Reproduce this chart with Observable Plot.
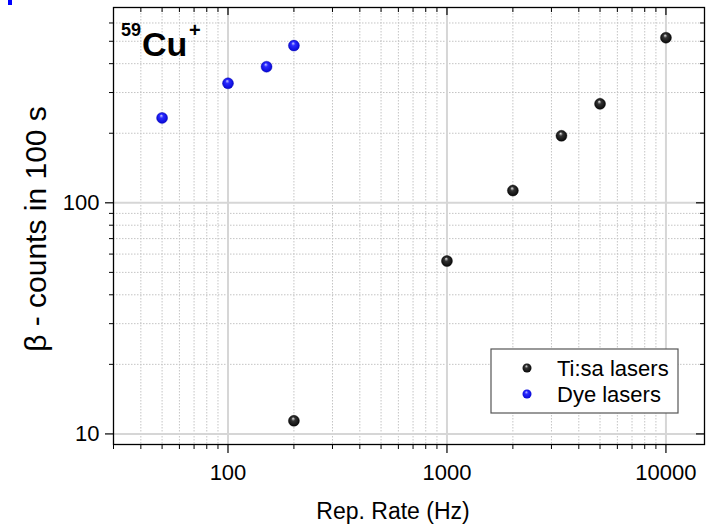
<!DOCTYPE html>
<html><head><meta charset="utf-8">
<script src="https://cdn.jsdelivr.net/npm/d3@7"></script>
<script src="https://cdn.jsdelivr.net/npm/@observablehq/plot@0.6"></script>
<style>body{margin:0;background:#fff;} #chart{width:709px;height:526px;}</style>
</head><body><div id="chart"></div>
<script>
// ---- data ----
const tisaRate = [200, 1000, 2000, 3333, 5000, 10000];
const tisaCounts = [11.4, 56, 113, 195, 268, 518];
const dyeRate = [50, 100, 150, 200];
const dyeCounts = [233, 329, 388, 479];
const seriesNames = ["Ti:sa lasers", "Dye lasers"];
const majorX = [100, 1000, 10000];
const minorX = [30, 40, 50, 60, 70, 80, 90, 200, 300, 400, 500, 600, 700, 800, 900, 2000, 3000, 4000, 5000, 6000, 7000, 8000, 9000];
const majorY = [10, 100];
const minorY = [20, 30, 40, 50, 60, 70, 80, 90, 200, 300, 400, 500, 600];
const xTickLabels = ["100", "1000", "10000"];
const yTickLabels = ["10", "100"];
const xLabel = "Rep. Rate (Hz)";
const yLabel = "β - counts in 100 s";

const tisa = tisaRate.map((r, i) => ({rate: r, counts: tisaCounts[i]}));
const dye = dyeRate.map((r, i) => ({rate: r, counts: dyeCounts[i]}));

const W = 709, H = 526, mL = 113, mR = 5, mT = 7, mB = 82;
const fw = W - mL - mR, fh = H - mT - mB;
const font = "'Liberation Sans', Arial, Helvetica, sans-serif";

const plot = Plot.plot({
  width: W, height: H,
  marginLeft: mL, marginRight: mR, marginTop: mT, marginBottom: mB,
  style: {fontFamily: font, background: "#fff", color: "#000", overflow: "visible"},
  x: {type: "log", domain: [30, 15000]},
  y: {type: "log", domain: [9, 700]},
  marks: [
    // grid
    Plot.ruleX(minorX.filter(d => d > 30), {stroke: "#c4c4c4", strokeDasharray: "1.5,1.5", strokeWidth: 1}),
    Plot.ruleY(minorY, {stroke: "#c4c4c4", strokeDasharray: "1.5,1.5", strokeWidth: 1}),
    Plot.ruleX(majorX, {stroke: "#d6d6d6", strokeWidth: 2}),
    Plot.ruleY(majorY, {stroke: "#d6d6d6", strokeWidth: 2}),
    // inward ticks top / right
    Plot.ruleX(majorX, {insetBottom: fh - 8, stroke: "#000", strokeWidth: 1.2}),
    Plot.ruleX(minorX, {insetBottom: fh - 5, stroke: "#000", strokeWidth: 1}),
    Plot.ruleY(majorY, {insetLeft: fw - 8, stroke: "#000", strokeWidth: 1.2}),
    Plot.ruleY(minorY, {insetLeft: fw - 4, stroke: "#000", strokeWidth: 1}),
    Plot.frame({stroke: "#000", strokeWidth: 1.3}),
    // axes
    Plot.axisX(majorX, {tickSize: 9, tickPadding: 11, fontSize: 22, strokeWidth: 1.2,
      tickFormat: d => xTickLabels[majorX.indexOf(d)], label: null}),
    Plot.axisX(minorX, {tickSize: 5, tickFormat: () => "", label: null}),
    Plot.axisY(majorY, {tickSize: 8, tickPadding: 6, fontSize: 22, strokeWidth: 1.2,
      tickFormat: d => yTickLabels[majorY.indexOf(d)], label: null}),
    Plot.axisY(minorY, {tickSize: 4, tickFormat: () => "", label: null}),
    // data
    Plot.dot(dye, {x: "rate", y: "counts", r: 5.5, fill: "url(#gBlue)", stroke: "#0000aa", strokeWidth: 0.4}),
    Plot.dot(tisa, {x: "rate", y: "counts", r: 5.5, fill: "url(#gBlack)", stroke: "#000", strokeWidth: 0.4})
  ]
});

const svg = d3.select(plot);
const defs = svg.insert("defs", ":first-child");
function grad(id, c0, c1, c2) {
  const g = defs.append("radialGradient").attr("id", id)
    .attr("cx", "0.5").attr("cy", "0.5").attr("r", "0.6").attr("fx", "0.42").attr("fy", "0.28");
  g.append("stop").attr("offset", "0").attr("stop-color", c0);
  g.append("stop").attr("offset", "0.3").attr("stop-color", c1);
  g.append("stop").attr("offset", "1").attr("stop-color", c2);
}
grad("gBlack", "#e8e8e8", "#333", "#000");
grad("gBlue", "#c8c8ff", "#2a2aff", "#0000cc");

// axis titles
const titles = svg.append("g").attr("font-family", font).attr("fill", "#000").attr("text-anchor", "middle");
titles.append("text").attr("x", 393).attr("y", 519).attr("font-size", 23).text(xLabel);
titles.append("text").attr("transform", "translate(46,229) rotate(-90)").attr("font-size", 30).text(yLabel);

// annotation 59Cu+
const ann = svg.append("g").attr("font-family", font).attr("font-weight", "bold").attr("fill", "#000").attr("text-anchor", "start");
ann.append("text").attr("x", 121).attr("y", 36).attr("font-size", 18).text("59");
ann.append("text").attr("x", 142).attr("y", 56).attr("font-size", 34).text("Cu");
ann.append("text").attr("x", 189).attr("y", 37).attr("font-size", 20).text("+");

// legend
const lg = svg.append("g").attr("font-family", font).attr("text-anchor", "start");
lg.append("rect").attr("x", 491).attr("y", 349).attr("width", 187).attr("height", 64)
  .attr("fill", "#fff").attr("stroke", "#555").attr("stroke-width", 1.2);
const lgFill = ["url(#gBlack)", "url(#gBlue)"];
seriesNames.forEach((name, i) => {
  lg.append("circle").attr("cx", 527).attr("cy", 368 + i * 26).attr("r", 4.5).attr("fill", lgFill[i]);
  lg.append("text").attr("x", 557).attr("y", 376 + i * 26).attr("font-size", 22).attr("fill", "#000").text(name);
});

// cropped blue fragment at top-left of the source image
svg.append("rect").attr("x", 8).attr("y", 0).attr("width", 4).attr("height", 5).attr("fill", "#0000ff");

document.getElementById("chart").appendChild(plot);
</script>
</body></html>
